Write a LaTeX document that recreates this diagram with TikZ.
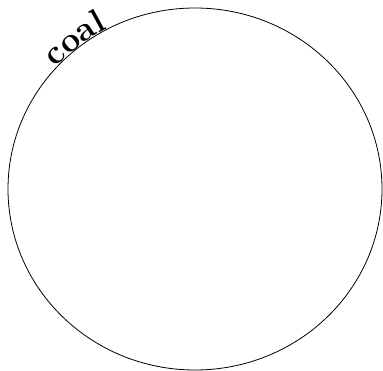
\documentclass[tikz,border=0pt]{standalone}
\usetikzlibrary{decorations.text}
\begin{document}
\begin{tikzpicture}[x=1pt,y=1pt,line width=0.8pt]
  \useasboundingbox (0,0) rectangle (383,370);
  \coordinate (mid) at (195,181);
  \draw (mid) ellipse [x radius=187,y radius=181];
  % label riding on the rim
  \path[decorate,decoration={text along path,
        text format delimiters={|}{|},
        text={|\fontsize{34}{40}\selectfont\bfseries|coal}}]
    ([shift={(138:187 and 181)}]mid) arc [start angle=138,end angle=80,
                                          x radius=187,y radius=181];
\end{tikzpicture}
\end{document}
